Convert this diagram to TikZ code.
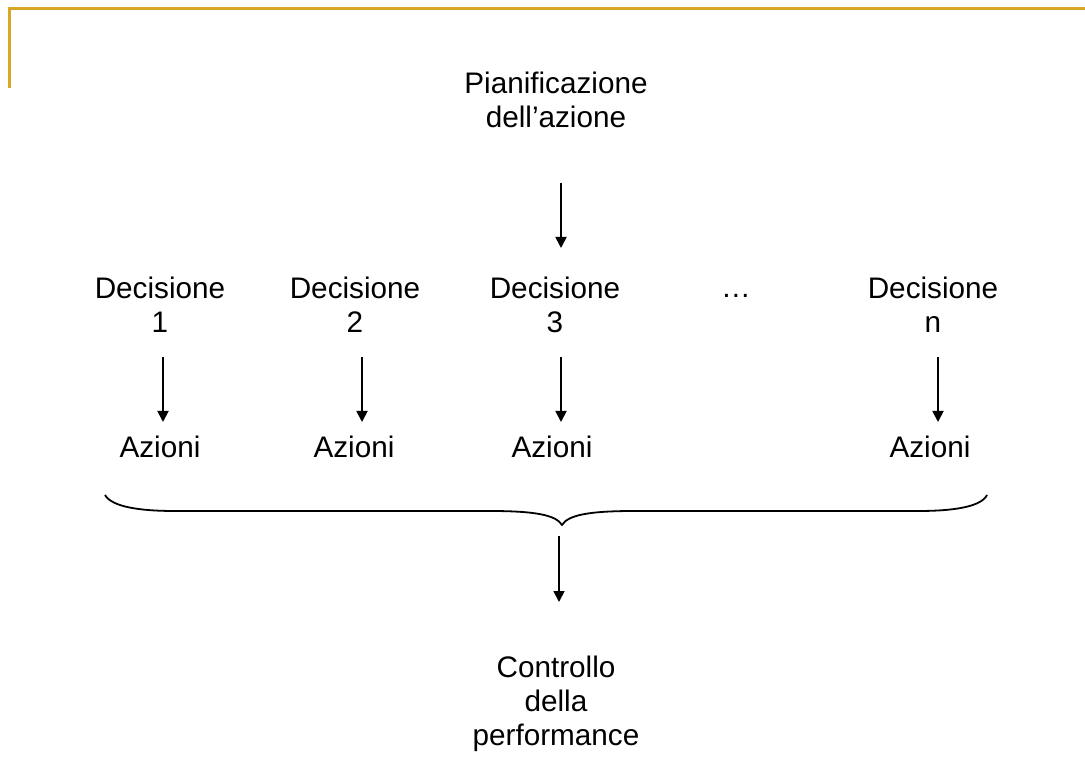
\documentclass[tikz,border=0pt]{standalone}
\usepackage{fontspec}
\setmainfont{Liberation Sans}
\usetikzlibrary{arrows.meta}
\definecolor{frame}{RGB}{214,168,38}
\begin{document}
\begin{tikzpicture}[x=1pt,y=-1pt,
  lbl/.style={inner sep=0pt,anchor=base,align=center,
    font=\fontsize{29.7}{34}\selectfont},
  arr/.style={line width=1.8pt,-{Triangle[width=11pt,length=11pt]}},
  brace/.style={line width=1.8pt,line join=round}]
\useasboundingbox (0,0) rectangle (1085,783);
% frame corner
\draw[frame,line width=3pt] (9,88) -- (9,9) -- (1085,9);
% labels (base anchor = baseline of the last line)
\node[lbl] (plan) at (556,128) {Pianificazione\\dell’azione};
\node[lbl] (d1) at (160,333) {Decisione\\1};
\node[lbl] (d2) at (355,333) {Decisione\\2};
\node[lbl] (d3) at (555,333) {Decisione\\3};
\node[lbl] (dots) at (736,298) {\dots};
\node[lbl] (dn) at (933,333) {Decisione\\n};
\node[lbl] (a1) at (160,458) {Azioni};
\node[lbl] (a2) at (354,458) {Azioni};
\node[lbl] (a3) at (552,458) {Azioni};
\node[lbl] (an) at (930,458) {Azioni};
\node[lbl] (ctrl) at (556,745) {Controllo\\della\\performance};
% arrow end points
\coordinate (p0) at (561,183); \coordinate (p1) at (561,248);
\coordinate (d1s) at (163,357); \coordinate (a1n) at (163,422);
\coordinate (d2s) at (362,357); \coordinate (a2n) at (362,422);
\coordinate (d3s) at (561,357); \coordinate (a3n) at (561,422);
\coordinate (dns) at (938,357); \coordinate (ann) at (938,422);
\coordinate (tip) at (559,536); \coordinate (c1) at (559,602);
\draw[arr] (p0) -- (p1);
\draw[arr] (d1s) -- (a1n);
\draw[arr] (d2s) -- (a2n);
\draw[arr] (d3s) -- (a3n);
\draw[arr] (dns) -- (ann);
\draw[arr] (tip) -- (c1);
% brace under the actions
\draw[brace] (105,495) .. controls (112,507) and (140,511) .. (175,511)
  -- (490,511) .. controls (535,511) and (556,515) .. (562,525)
  .. controls (568,515) and (589,511) .. (634,511)
  -- (918,511) .. controls (953,511) and (981,507) .. (987,495);
\end{tikzpicture}
\end{document}
